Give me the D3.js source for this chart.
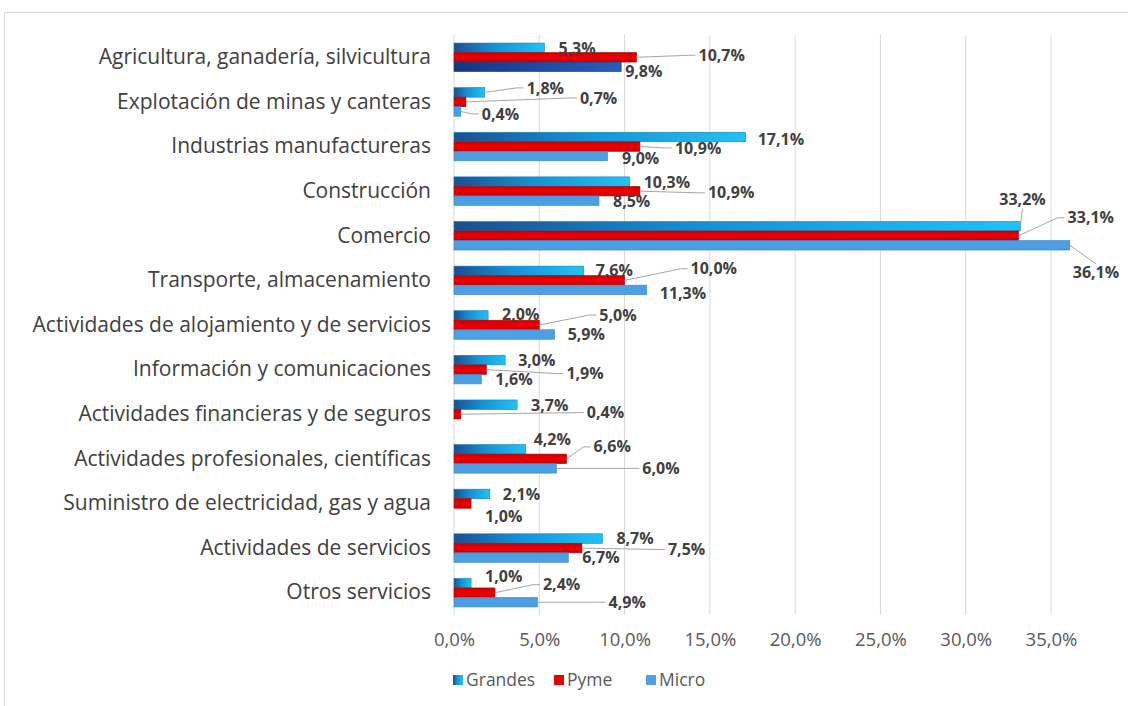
<!DOCTYPE html>
<html>
<head>
<meta charset="utf-8">
<script src="https://cdnjs.cloudflare.com/ajax/libs/d3/7.8.5/d3.min.js"></script>
<style>
body { margin: 0; background: #fff; }
text { font-family: "Open Sans", sans-serif; }
</style>
</head>
<body>
<div id="chart"></div>
<script>
var categories = [
  "Agricultura, ganadería, silvicultura",
  "Explotación de minas y canteras",
  "Industrias manufactureras",
  "Construcción",
  "Comercio",
  "Transporte, almacenamiento",
  "Actividades de alojamiento y de servicios",
  "Información y comunicaciones",
  "Actividades financieras y de seguros",
  "Actividades profesionales, científicas",
  "Suministro de electricidad, gas y agua",
  "Actividades de servicios",
  "Otros servicios"
];
var series = ["Grandes", "Pyme", "Micro"];
var grandes = [5.3, 1.8, 17.1, 10.3, 33.2, 7.6, 2.0, 3.0, 3.7, 4.2, 2.1, 8.7, 1.0];
var pyme = [10.7, 0.7, 10.9, 10.9, 33.1, 10.0, 5.0, 1.9, 0.4, 6.6, 1.0, 7.5, 2.4];
var micro = [9.8, 0.4, 9.0, 8.5, 36.1, 11.3, 5.9, 1.6, 0, 6.0, 0, 6.7, 4.9];
var xTicks = [0, 5, 10, 15, 20, 25, 30, 35];

// label placement [dx, dy, leader line] measured from bar end / bar centre
var grandesLabelPos = [[14,1,0],[42,-4.5,1],[12,2,0],[14,1,0],[-21,-26.5,1],[12,0,0],[14,-1,0],
  [13,0.6,0],[14,1,0],[8,-10,0],[13,0.6,0],[14,0,0],[14,-7,0]];
var pymeLabelPos = [[62,-2,1],[114,-4,1],[35,1.4,1],[68,1.7,1],[49,-18,1],[66,-11.6,1],[60,-10,1],
  [80,4,1],[126,-1.6,1],[27,-12,1],[14,13,0],[86,1.4,1],[48,-8,1]];
var microLabelPos = [[4,5,0],[21,2.5,1],[14.5,2,0],[14,1,0],[3,27.5,1],[13,3,0],[13,0,0],
  [14,0,0],[0,0,0],[86,0,1],[0,0,0],[14,0,0],[71,0,1]];

var margin = {top: 35, right: 77, bottom: 91, left: 454},
    width = 1128 - margin.left - margin.right,
    height = 706 - margin.top - margin.bottom;

var svgRoot = d3.select("#chart")
  .append("svg")
    .attr("width", 1128)
    .attr("height", 706);

// outer chart frame
svgRoot.append("rect")
  .attr("x", 4.5).attr("y", 12.5)
  .attr("width", 1200).attr("height", 800)
  .attr("fill", "none")
  .attr("stroke", "#d9d9d9");

var defs = svgRoot.append("defs");
var gG = defs.append("linearGradient").attr("id", "gradGrandes")
  .attr("x1", 0).attr("x2", 1).attr("y1", 0).attr("y2", 0);
gG.append("stop").attr("offset", 0).attr("stop-color", "#1b4f8e");
gG.append("stop").attr("offset", 0.45).attr("stop-color", "#1592d4");
gG.append("stop").attr("offset", 1).attr("stop-color", "#1fc3f5");
var gM = defs.append("linearGradient").attr("id", "gradMicroDark")
  .attr("x1", 0).attr("x2", 1).attr("y1", 0).attr("y2", 0);
gM.append("stop").attr("offset", 0).attr("stop-color", "#17357f");
gM.append("stop").attr("offset", 1).attr("stop-color", "#2a5cbc");
var gP = defs.append("linearGradient").attr("id", "gradPyme")
  .attr("x1", 0).attr("x2", 0).attr("y1", 0).attr("y2", 1);
gP.append("stop").attr("offset", 0).attr("stop-color", "#c80000");
gP.append("stop").attr("offset", 0.5).attr("stop-color", "#f00000");
gP.append("stop").attr("offset", 1).attr("stop-color", "#c80000");

var svg = svgRoot.append("g")
  .attr("transform", "translate(" + margin.left + "," + margin.top + ")");

var x = d3.scaleLinear()
  .domain([0, 35])
  .range([0, width]);

var y = d3.scaleBand()
  .domain(categories)
  .range([0, height])
  .paddingInner(0.36)
  .paddingOuter(0.18);

var ySub = d3.scaleBand()
  .domain(series)
  .range([0, y.bandwidth()]);

// vertical gridlines
svg.append("g")
  .selectAll("line")
  .data(xTicks)
  .join("line")
    .attr("x1", function(d) { return x(d); })
    .attr("x2", function(d) { return x(d); })
    .attr("y1", 0)
    .attr("y2", height)
    .attr("stroke", "#d9d9d9");

// x axis labels
var xAxis = svg.append("g")
  .attr("transform", "translate(0," + height + ")")
  .call(d3.axisBottom(x).tickValues(xTicks).tickSize(0).tickPadding(18)
    .tickFormat(function(d) { return d3.format(".1f")(d).replace(".", ",") + "%"; }));
xAxis.select(".domain").remove();
xAxis.selectAll("text")
  .attr("font-family", "Open Sans, sans-serif")
  .attr("font-size", 18.5)
  .attr("fill", "#595959");

// category labels
var yAxis = svg.append("g")
  .call(d3.axisLeft(y).tickSize(0).tickPadding(23));
yAxis.select(".domain").remove();
yAxis.selectAll("text")
  .attr("font-family", "Open Sans, sans-serif")
  .attr("font-size", 21)
  .attr("fill", "#404040");

var fmt = function(v) { return d3.format(".1f")(v).replace(".", ",") + "%"; };

var rows = [];
for (var i = 0; i < categories.length; i++) {
  rows.push({s: "Grandes", cat: categories[i], i: i, v: grandes[i], pos: grandesLabelPos[i]});
  rows.push({s: "Pyme", cat: categories[i], i: i, v: pyme[i], pos: pymeLabelPos[i]});
  rows.push({s: "Micro", cat: categories[i], i: i, v: micro[i], pos: microLabelPos[i]});
}

function fillFor(d) {
  if (d.s == "Grandes") return "url(#gradGrandes)";
  if (d.s == "Pyme") return "url(#gradPyme)";
  if (d.i == 0) return "url(#gradMicroDark)";
  return "#4c9fe2";
}
function strokeFor(d) {
  if (d.s == "Grandes") return "#1a7fc0";
  if (d.s == "Pyme") return "#b00000";
  if (d.i == 0) return "#1a3a88";
  return "#3b85c8";
}

var barRows = rows.filter(function(d) { return d.v > 0; });

svg.append("g")
  .selectAll("rect")
  .data(barRows)
  .join("rect")
    .attr("x", x(0))
    .attr("y", function(d) { return y(d.cat) + ySub(d.s); })
    .attr("width", function(d) { return x(d.v) - x(0); })
    .attr("height", ySub.bandwidth())
    .attr("fill", fillFor)
    .attr("stroke", strokeFor)
    .attr("stroke-width", 0.6);

function barCentre(d) { return y(d.cat) + ySub(d.s) + ySub.bandwidth() / 2; }

var leaderG = svg.append("g");

var labels = svg.append("g")
  .selectAll("text")
  .data(barRows)
  .join("text")
    .attr("x", function(d) { return x(d.v) + d.pos[0]; })
    .attr("y", function(d) { return barCentre(d) + d.pos[1]; })
    .attr("dy", "0.35em")
    .attr("font-family", "Open Sans, sans-serif")
    .attr("font-size", 16)
    .attr("font-weight", "bold")
    .attr("fill", "#404040")
    .text(function(d) { return fmt(d.v); });

// leader lines from bar end to the moved labels
labels.each(function(d) {
  if (!d.pos[2]) return;
  var w = this.getComputedTextLength();
  var ex = x(d.v), ey = barCentre(d);
  var lx = x(d.v) + d.pos[0], ly = barCentre(d) + d.pos[1];
  var pts;
  if (lx > ex + 15) {
    pts = [[ex, ey], [lx - 10, ly], [lx - 3, ly]];
  } else if (ly < ey) {
    pts = [[ex, ey], [lx + w / 2, ly + 9]];
  } else {
    pts = [[ex, ey], [lx + w / 2, ly - 9]];
  }
  leaderG.append("path")
    .attr("d", d3.line()(pts))
    .attr("fill", "none")
    .attr("stroke", "#a6a6a6")
    .attr("stroke-width", 1);
});

// legend
var legend = svgRoot.append("g")
  .attr("transform", "translate(453,680)");
var legendX = [0, 101, 193];
var legendFill = ["url(#gradGrandes)", "#e80000", "#4c9fe2"];
series.forEach(function(s, k) {
  legend.append("rect")
    .attr("x", legendX[k]).attr("y", -5)
    .attr("width", 10).attr("height", 10)
    .attr("fill", legendFill[k]);
  legend.append("text")
    .attr("x", legendX[k] + 13).attr("y", 0)
    .attr("dy", "0.35em")
    .attr("font-family", "Open Sans, sans-serif")
    .attr("font-size", 17.5)
    .attr("fill", "#595959")
    .text(s);
});
</script>
</body>
</html>
